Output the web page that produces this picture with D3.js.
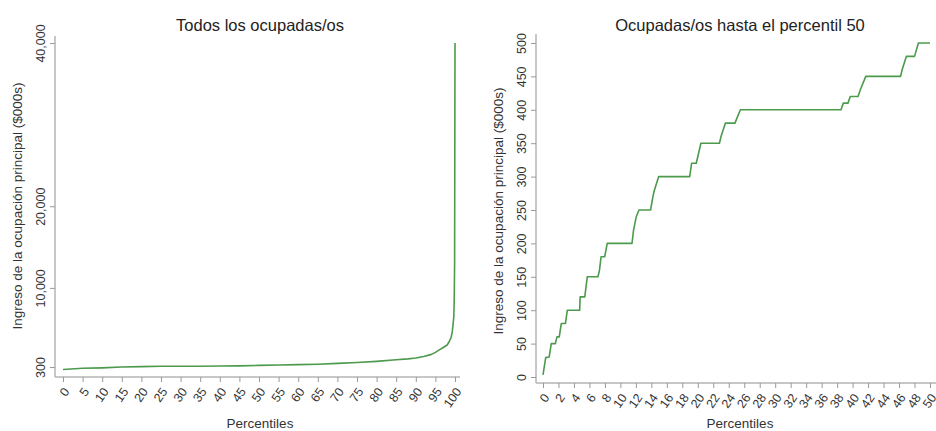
<!DOCTYPE html>
<html>
<head>
<meta charset="utf-8">
<script src="https://cdn.jsdelivr.net/npm/d3@7"></script>
<style>
    body { margin: 0; background: #fff; }
    svg { font-family: "Liberation Sans", Arial, sans-serif; }
    .title { font-size: 16.5px; fill: #222; }
    .axis-title { font-size: 13.5px; fill: #333; }
    .tick text { font-size: 12.5px; fill: #333; }
    .tick line { stroke: #999; }
    .axis-line { stroke: #b5b5b5; stroke-width: 1.5; }
    .series { fill: none; stroke: #4c9a4c; stroke-width: 1.6; stroke-linejoin: round; }
</style>
</head>
<body>
<svg id="canvas" width="936" height="431"></svg>
<script>
// left panel: all workers, income by percentile ($000s)
const allPercentiles = [0, 5, 10, 15, 20, 25, 30, 35, 40, 45, 50, 55, 60, 65, 70, 75, 80, 85, 88, 90,
    92, 94, 95, 96, 97, 98, 98.5, 99, 99.3, 99.5, 99.7, 99.8, 99.9, 100];
const allIncome = [5, 150, 200, 300, 350, 400, 400, 400, 420, 450, 500, 550, 600, 650, 750, 850, 1000, 1200, 1300, 1400,
    1600, 1850, 2100, 2400, 2700, 3000, 3400, 3900, 4600, 5500, 6500, 8500, 13000, 40000];
const allYTicks = [300, 10000, 20000, 40000];
const allXTicks = d3.range(0, 101, 5);

// right panel: workers up to percentile 50
const lowPercentiles = [0, 0.35, 0.8, 1.07, 1.6, 1.8, 2.1, 2.36, 2.9, 3.14, 4.74, 4.8, 5.4, 5.72, 7.1, 7.3, 7.5, 7.97,
    8.3, 11.5, 11.7, 12.05, 12.4, 13.9, 14.2, 14.4, 14.95, 18.95, 19.2, 19.8, 20.4, 22.8, 23.0, 23.56, 24.8, 25.5,
    38.5, 38.8, 39.4, 39.7, 40.7, 41.0, 41.7, 46.2, 46.4, 46.95, 48.0, 48.5, 50];
const lowIncome = [3, 29, 30, 50, 50, 60, 60, 80, 80, 100, 100, 120, 120, 150, 150, 160, 180, 180,
    200, 200, 220, 240, 250, 250, 270, 280, 300, 300, 320, 320, 350, 350, 360, 380, 380, 400,
    400, 410, 410, 420, 420, 430, 450, 450, 460, 480, 480, 500, 500];
const lowYTicks = d3.range(0, 501, 50);
const lowXTicks = d3.range(0, 51, 2);

const titles = ["Todos los ocupadas/os", "Ocupadas/os hasta el percentil 50"];
const yTitle = "Ingreso de la ocupación principal ($000s)";
const xTitle = "Percentiles";

const canvas = d3.select("svg");

const panels = [
    {
        title: titles[0], pct: allPercentiles, val: allIncome, yTicks: allYTicks, xTicks: allXTicks,
        x: d3.scaleLinear().domain([0, 100]).range([63, 455]),
        y: d3.scaleLinear().domain([0, 40000]).range([369.5, 43]),
        yFormat: d3.format(","),
        axisX: 55, axisY: 377, axisTop: 36, axisRight: 460, center: 260, yTitleX: 17, yTitleY: 206
    },
    {
        title: titles[1], pct: lowPercentiles, val: lowIncome, yTicks: lowYTicks, xTicks: lowXTicks,
        x: d3.scaleLinear().domain([0, 50]).range([543, 930]),
        y: d3.scaleLinear().domain([0, 500]).range([377, 43]),
        yFormat: d3.format("d"),
        axisX: 536, axisY: 383, axisTop: 34, axisRight: 936, center: 740, yTitleX: 498, yTitleY: 211
    }
];

function drawPanel(p) {
    const g = canvas.append("g");

    g.append("line").attr("class", "axis-line")
        .attr("x1", p.axisX).attr("x2", p.axisX).attr("y1", p.axisTop).attr("y2", p.axisY);
    g.append("line").attr("class", "axis-line")
        .attr("x1", p.axisX).attr("x2", p.axisRight).attr("y1", p.axisY).attr("y2", p.axisY);

    const yAxis = g.append("g")
        .attr("transform", "translate(" + p.axisX + ",0)")
        .call(d3.axisLeft(p.y).tickValues(p.yTicks).tickFormat(p.yFormat).tickSize(5).tickSizeOuter(0));
    yAxis.select(".domain").remove();
    yAxis.selectAll(".tick text")
        .attr("transform", "rotate(-90)")
        .attr("x", 0).attr("y", -10).attr("dy", 0)
        .attr("text-anchor", "middle");

    const xAxis = g.append("g")
        .attr("transform", "translate(0," + p.axisY + ")")
        .call(d3.axisBottom(p.x).tickValues(p.xTicks).tickSize(5).tickSizeOuter(0));
    xAxis.select(".domain").remove();
    xAxis.selectAll(".tick text")
        .attr("x", 0).attr("y", 0).attr("dy", "0.35em")
        .attr("transform", "translate(3,12) rotate(-55)")
        .attr("text-anchor", "end");

    const line = d3.line()
        .x((d) => {return p.x(d[0]);})
        .y((d) => {return p.y(d[1]);});
    g.append("path")
        .attr("class", "series")
        .attr("d", line(d3.zip(p.pct, p.val)));

    g.append("text").attr("class", "title")
        .attr("x", p.center).attr("y", 31)
        .attr("text-anchor", "middle")
        .text(p.title);
    g.append("text").attr("class", "axis-title")
        .attr("x", p.center).attr("y", 428)
        .attr("text-anchor", "middle")
        .text(xTitle);
    g.append("text").attr("class", "axis-title")
        .attr("transform", "translate(" + (p.yTitleX + 5) + "," + p.yTitleY + ") rotate(-90)")
        .attr("text-anchor", "middle")
        .text(yTitle);
}

panels.forEach(drawPanel);
</script>
</body>
</html>
